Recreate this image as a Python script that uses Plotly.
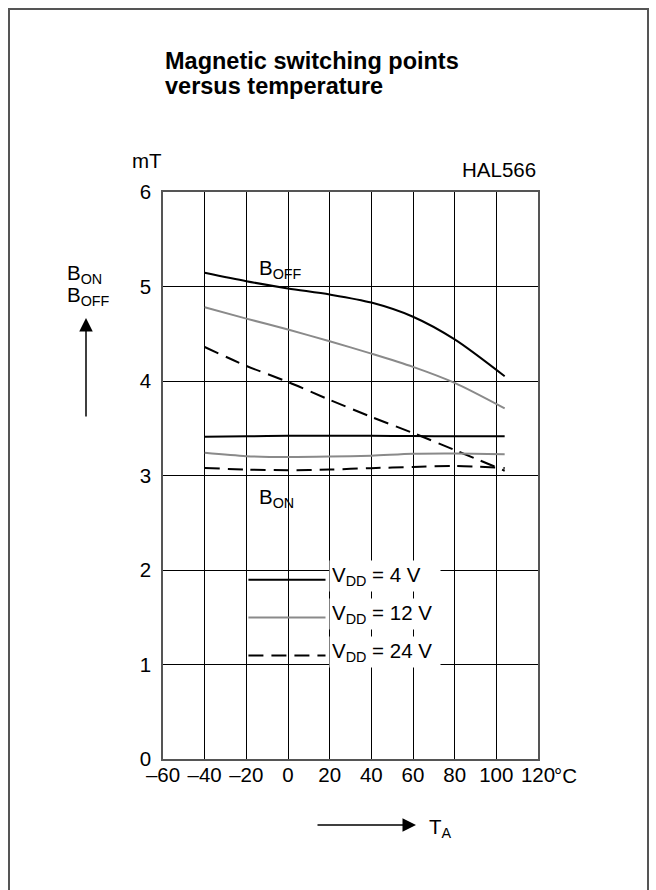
import plotly.graph_objects as go

# ---- data ----
temps = [-40, -20, 0, 20, 40, 60, 80, 104]
boff_4v = [5.145, 5.056, 4.98, 4.915, 4.83, 4.68, 4.44, 4.05]
boff_12v = [4.78, 4.66, 4.545, 4.42, 4.29, 4.15, 3.98, 3.71]
boff_24v = [4.36, 4.16, 3.99, 3.80, 3.62, 3.45, 3.27, 3.05]
bon_4v = [3.41, 3.415, 3.42, 3.42, 3.42, 3.418, 3.415, 3.415]
bon_12v = [3.24, 3.205, 3.195, 3.20, 3.21, 3.23, 3.233, 3.226]
bon_24v = [3.08, 3.063, 3.056, 3.063, 3.078, 3.09, 3.10, 3.08]

x_ticks = [-60, -40, -20, 0, 20, 40, 60, 80, 100, 120]
x_ticktext = ["\u201360", "\u201340", "\u201320", "0", "20", "40", "60", "80", "100", "120"]
y_ticks = [0, 1, 2, 3, 4, 5, 6]

legend_labels = ["V<sub>DD</sub> = 4 V", "V<sub>DD</sub> = 12 V", "V<sub>DD</sub> = 24 V"]

# ---- layout geometry ----
W, H = 656, 890
L, R, T, B = 163, 118, 192, 131
PW = W - L - R
PH = H - T - B
PB = H - B


def px(x):
    return (x - L) / PW


def py(y):
    return (PB - y) / PH


FONT = "Liberation Sans, Arial, sans-serif"
FS = 20.5
BLACK = "#000000"
GRAY = "#8a8a8a"

styles = [
    dict(color=BLACK, width=2, dash="solid"),
    dict(color=GRAY, width=2, dash="solid"),
    dict(color=BLACK, width=2, dash="15px,8px"),
]

fig = go.Figure()
series = [
    ("B_OFF, VDD = 4 V", boff_4v, 0),
    ("B_OFF, VDD = 12 V", boff_12v, 1),
    ("B_OFF, VDD = 24 V", boff_24v, 2),
    ("B_ON, VDD = 4 V", bon_4v, 0),
    ("B_ON, VDD = 12 V", bon_12v, 1),
    ("B_ON, VDD = 24 V", bon_24v, 2),
]
for name, ys, si in series:
    fig.add_trace(go.Scatter(
        x=temps, y=ys, mode="lines", name=name,
        line=dict(shape="spline", smoothing=0.8, **styles[si]),
        showlegend=False, hoverinfo="x+y+name",
    ))

shapes = []
# outer frame
shapes.append(dict(type="rect", xref="paper", yref="paper",
                   x0=px(9), x1=px(648), y0=py(900), y1=py(9),
                   line=dict(color="#555555", width=2), fillcolor="rgba(0,0,0,0)"))

annotations = []


def txt(x, y, text, anchor="left", size=FS, bold=False):
    if bold:
        text = "<b>" + text + "</b>"
    annotations.append(dict(xref="paper", yref="paper", x=px(x), y=py(y), xanchor=anchor,
                            yanchor="middle", text=text, showarrow=False,
                            font=dict(family=FONT, size=size, color=BLACK)))


# legend: sample lines + labels
leg_y = [1.897, 1.498, 1.096]
for i, (lab, yv) in enumerate(zip(legend_labels, leg_y)):
    shapes.append(dict(type="line", xref="x", yref="y", x0=-19, x1=18, y0=yv, y1=yv,
                       line=styles[i], layer="above"))
    annotations.append(dict(xref="x", yref="y", x=19.5, y=yv + 0.04, xanchor="left",
                            yanchor="middle", text=lab, showarrow=False, align="left",
                            bgcolor="white", borderpad=2, width=106,
                            font=dict(family=FONT, size=FS, color=BLACK)))

# title
txt(163, 60.5, "Magnetic switching points", size=23.5, bold=True)
txt(163, 86, "versus temperature", size=23.5, bold=True)
# units / labels
txt(147, 160, "mT", anchor="center")
txt(538, 170, "HAL566", anchor="right")
txt(552, 775, "\u00b0C")
# y-axis label and arrow
txt(65, 274, "B<sub>ON</sub>")
txt(65, 296, "B<sub>OFF</sub>")
annotations.append(dict(xref="paper", yref="paper", axref="pixel", ayref="pixel",
                        x=px(86), y=py(318), ax=0, ay=100, text="", showarrow=True,
                        arrowhead=2, arrowsize=1.8, arrowwidth=1.5, arrowcolor=BLACK))
# x-axis label and arrow
annotations.append(dict(xref="paper", yref="paper",
                        x=px(416), y=py(825), ax=-100, ay=0, text="", showarrow=True,
                        arrowhead=2, arrowsize=1.8, arrowwidth=1.5, arrowcolor=BLACK))
txt(427, 828, "T<sub>A</sub>")
# curve group labels
txt(257, 269, "B<sub>OFF</sub>")
txt(257, 498, "B<sub>ON</sub>")

fig.update_layout(
    width=W, height=H,
    margin=dict(l=L, r=R, t=T, b=B, pad=0),
    paper_bgcolor="white", plot_bgcolor="white",
    font=dict(family=FONT, size=FS, color=BLACK),
    shapes=shapes, annotations=annotations,
    showlegend=False,
)
fig.update_xaxes(range=[-60, 120], tickmode="array", tickvals=x_ticks, ticktext=x_ticktext,
                 showgrid=True, gridcolor=BLACK, gridwidth=1, zeroline=False,
                 showline=True, mirror=True, linecolor="#555555", linewidth=1.5,
                 ticks="", ticklabelstandoff=-3, tickfont=dict(family=FONT, size=FS, color=BLACK),
                 fixedrange=True)
fig.update_yaxes(range=[0, 6], tickmode="array", tickvals=y_ticks,
                 showgrid=True, gridcolor=BLACK, gridwidth=1, zeroline=False,
                 showline=True, mirror=True, linecolor="#555555", linewidth=1.5,
                 ticks="", ticklabelstandoff=6, tickfont=dict(family=FONT, size=FS, color=BLACK),
                 fixedrange=True)

fig.write_html("out.html")
